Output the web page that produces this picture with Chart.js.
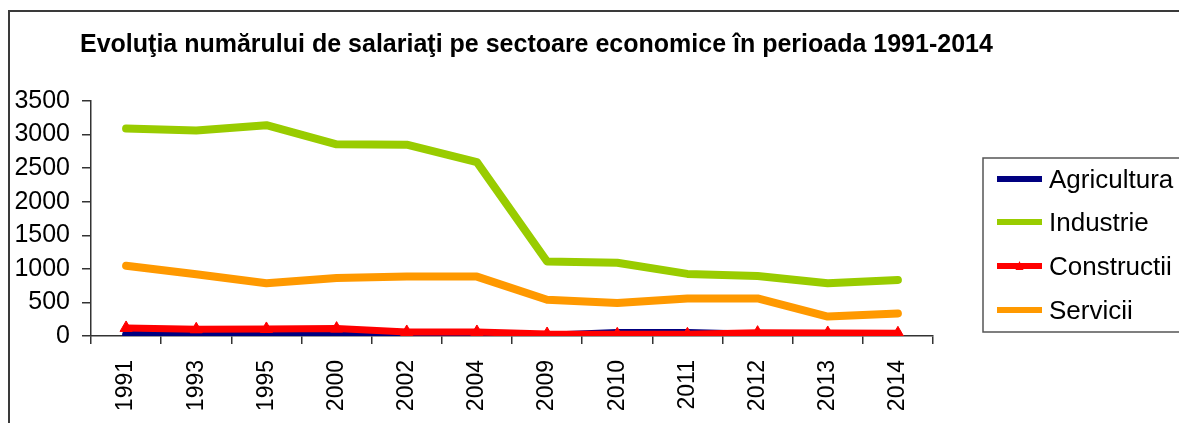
<!DOCTYPE html>
<html>
<head>
<meta charset="utf-8">
<script src="https://cdn.jsdelivr.net/npm/chart.js@4.4.1/dist/chart.umd.min.js"></script>
<style>
  html, body { margin: 0; padding: 0; background: #fff; }
  #wrap { position: relative; width: 1179px; height: 423px; }
</style>
</head>
<body>
<div id="wrap"><canvas id="chart" width="1179" height="423"></canvas></div>
<script>
// data
const years = ['1991', '1993', '1995', '2000', '2002', '2004', '2009', '2010', '2011', '2012', '2013', '2014'];
const agricultura = [20, 15, 15, 15, 10, 10, 5, 45, 45, 20, 15, 10];
const industrie = [3090, 3060, 3140, 2855, 2850, 2590, 1110, 1090, 925, 895, 785, 835];
const constructii = [120, 100, 105, 110, 60, 60, 30, 25, 25, 50, 45, 40];
const servicii = [1045, 920, 785, 865, 885, 885, 540, 490, 560, 560, 290, 335];

const titleText = 'Evoluţia numărului de salariaţi pe sectoare economice în perioada 1991-2014';
const FONT = '"Liberation Sans", Arial, sans-serif';

// frame, title and boxed legend like the spreadsheet export
const decorPlugin = {
  id: 'decor',
  beforeDraw(chart) {
    const ctx = chart.ctx;
    ctx.save();
    ctx.strokeStyle = '#3a3a3a';
    ctx.lineWidth = 2;
    ctx.strokeRect(9, 11, 1400, 600);
    ctx.restore();
  },
  afterDraw(chart) {
    const ctx = chart.ctx;
    ctx.save();
    ctx.fillStyle = '#000';
    ctx.font = 'bold 25px ' + FONT;
    ctx.textBaseline = 'alphabetic';
    ctx.textAlign = 'left';
    ctx.fillText(titleText, 80, 52);

    // legend box
    ctx.strokeStyle = '#555';
    ctx.lineWidth = 1.5;
    ctx.strokeRect(983, 158, 400, 174);

    const rowY = [179, 222, 266, 310];
    ctx.font = '26px ' + FONT;
    ctx.textBaseline = 'middle';
    chart.data.datasets.forEach((ds, i) => {
      const y = rowY[i];
      ctx.fillStyle = ds.borderColor;
      ctx.fillRect(997, y - 3, 45, 6);
      if (ds.pointRadius > 0) {
        ctx.beginPath();
        ctx.moveTo(1019.5, y - 5);
        ctx.lineTo(1023.5, y + 4);
        ctx.lineTo(1015.5, y + 4);
        ctx.closePath();
        ctx.fill();
      }
      ctx.fillStyle = '#000';
      ctx.fillText(ds.label, 1049, y + 2);
    });
    ctx.restore();
  }
};

new Chart(document.getElementById('chart'), {
  type: 'line',
  data: {
    labels: years,
    datasets: [
      {
        label: 'Agricultura',
        data: agricultura,
        borderColor: '#000080',
        backgroundColor: '#000080',
        borderWidth: 8,
        pointRadius: 0,
        order: 1
      },
      {
        label: 'Industrie',
        data: industrie,
        borderColor: '#99CC00',
        backgroundColor: '#99CC00',
        borderWidth: 8,
        pointRadius: 0,
        order: 0
      },
      {
        label: 'Constructii',
        data: constructii,
        borderColor: '#FF0000',
        backgroundColor: '#FF0000',
        borderWidth: 7,
        pointRadius: 7,
        pointStyle: 'triangle',
        pointBorderWidth: 1,
        order: 0
      },
      {
        label: 'Servicii',
        data: servicii,
        borderColor: '#FF9900',
        backgroundColor: '#FF9900',
        borderWidth: 8,
        pointRadius: 0,
        order: 0
      }
    ]
  },
  options: {
    responsive: false,
    animation: false,
    elements: {
      line: { tension: 0, borderCapStyle: 'round', borderJoinStyle: 'round', fill: false }
    },
    layout: { padding: { top: 101, right: 246, bottom: 0, left: 0 } },
    plugins: {
      legend: { display: false },
      title: { display: false },
      tooltip: { enabled: false }
    },
    scales: {
      x: {
        offset: true,
        afterFit: (s) => { s.height = 87; },
        grid: {
          offset: true,
          drawOnChartArea: false,
          drawTicks: true,
          tickLength: 8,
          tickColor: '#333',
          lineWidth: 1.5
        },
        border: { display: true, color: '#333', width: 1.5 },
        ticks: {
          minRotation: 90,
          maxRotation: 90,
          autoSkip: false,
          padding: 16,
          color: '#000',
          font: { family: FONT, size: 23 }
        }
      },
      y: {
        min: 0,
        max: 3500,
        afterFit: (s) => { s.width = 91; },
        grid: {
          drawOnChartArea: false,
          drawTicks: true,
          tickLength: 9,
          tickColor: '#333',
          lineWidth: 1.5
        },
        border: { display: true, color: '#333', width: 1.5 },
        ticks: {
          stepSize: 500,
          padding: 12,
          color: '#000',
          font: { family: FONT, size: 25 },
          callback: (v) => String(v)
        }
      }
    }
  },
  plugins: [decorPlugin]
});
</script>
</body>
</html>
